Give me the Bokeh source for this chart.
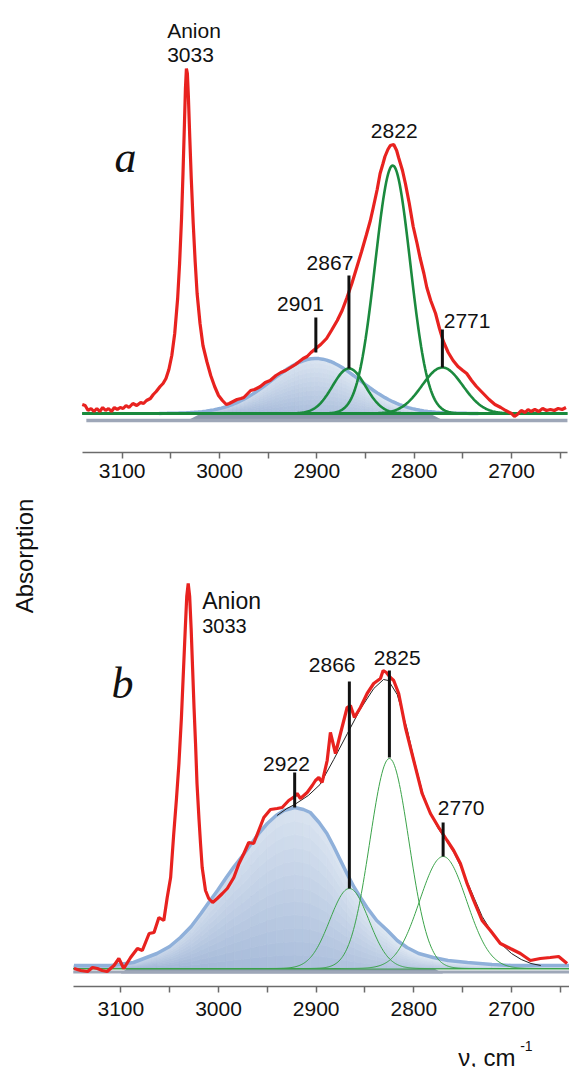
import numpy as np
from bokeh.plotting import figure
from bokeh.models import Range1d, FixedTicker, Label, ColumnDataSource
from bokeh.core.properties import value
from bokeh.layouts import column
from bokeh.embed import file_html
from bokeh.resources import INLINE

# ---------------- data ----------------
tick_major = [3100, 3000, 2900, 2800, 2700]
tick_minor = [3050, 2950, 2850, 2750, 2650]

# panel a : experimental spectrum (wavenumber, absorption in arbitrary units)
a_spectrum = [
    (3141, 9), (3138, 8), (3135, 3), (3132, 5), (3129, 2), (3126, 5), (3123, 2), (3120, 6),
    (3117, 3), (3114, 5), (3111, 2), (3108, 6), (3105, 4), (3102, 6), (3099, 5), (3096, 8),
    (3093, 6), (3089, 10), (3085, 8), (3081, 11), (3078, 10), (3075, 13), (3071, 15), (3068, 19),
    (3065, 22), (3061, 27), (3058, 30), (3055, 35), (3052, 44), (3049, 58), (3046, 80), (3043, 115),
    (3041, 150), (3039, 195), (3037.5, 240), (3036, 290), (3035, 325), (3034, 345), (3033, 340),
    (3032, 318), (3030.5, 275), (3029, 235), (3027, 190), (3025, 152), (3023, 120), (3020, 90),
    (3017, 68), (3013, 52), (3009, 38), (3005, 27), (3001, 18), (2997, 13), (2993, 9), (2990, 10),
    (2986, 12), (2982, 14), (2978, 15), (2975, 16), (2971, 20), (2968, 23), (2964, 24), (2958, 27),
    (2953, 31), (2948, 33), (2942, 38), (2937, 41), (2932, 43), (2927, 46), (2922, 49), (2918, 52),
    (2914, 55), (2910, 57), (2906, 61), (2901, 65), (2896, 69), (2890, 75), (2885, 83), (2879, 93),
    (2874, 103), (2869, 116), (2864, 130), (2859, 146), (2854, 162), (2849, 179), (2845, 193),
    (2842, 206), (2838, 224), (2835, 240), (2832, 250), (2830, 257), (2827, 264), (2824.5, 268),
    (2821, 269), (2818, 263), (2816, 256), (2812, 243), (2809, 230), (2805, 210), (2801, 187),
    (2797, 170), (2794, 156), (2790, 140), (2787, 126), (2783, 113), (2778, 100), (2774, 85),
    (2770, 72), (2765, 61), (2760, 53), (2755, 47), (2750, 43), (2746, 40), (2741, 33), (2736, 27),
    (2729, 20), (2723, 14), (2717, 9), (2711, 6), (2706, 3), (2700, 0), (2697, -3), (2694, -1),
    (2690, 3), (2686, 1), (2683, 4), (2680, 2), (2676, 4), (2672, 2), (2668, 5), (2664, 3),
    (2660, 4), (2656, 3), (2652, 5), (2648, 4), (2644, 6),
]
# panel a : fitted bands (centre, height, gaussian width)
a_band = (2901, 55, 45)
a_comp_center = [2867, 2822, 2771]
a_comp_height = [45, 248, 46]
a_comp_width = [17, 18, 21]
a_peak_names = ["2901", "2867", "2822", "2771"]
a_marked = ["2901", "2867", "2771"]
a_marker_low = [61, 45, 46]
a_marker_high = [96, 138, 84]

# panel b : experimental spectrum
b_spectrum = [
    (3148, 0), (3141, -2), (3134, -3), (3129, 1), (3124, 0), (3119, -2), (3114, -3), (3107, 3),
    (3102, 10), (3097, 0), (3090, 11), (3083, 20), (3078, 18), (3071, 35), (3066, 36), (3061, 51),
    (3056, 48), (3052.5, 71), (3049, 91), (3045.8, 135), (3043, 170), (3040.5, 205), (3038, 250),
    (3036, 295), (3034, 340), (3032.5, 372), (3031, 385), (3029.5, 372), (3028, 340),
    (3026.5, 300), (3025, 260), (3023.5, 225), (3022, 185), (3020, 150), (3018.4, 125),
    (3016.7, 101), (3013.3, 78), (3010, 70), (3006, 66), (3001.3, 70), (2996, 75), (2991, 80),
    (2984.3, 91), (2979, 105), (2974, 115), (2969, 126), (2964, 125), (2958, 140), (2953.6, 151),
    (2946.8, 159), (2940, 160), (2934.8, 161), (2928.1, 168), (2922, 172), (2919.5, 175),
    (2916.1, 170), (2909.2, 176), (2904, 183), (2900.7, 188), (2897.3, 191), (2893.9, 186),
    (2888.7, 208), (2885.4, 236), (2880.2, 215), (2875.1, 235), (2868.3, 261), (2864.9, 263),
    (2860.8, 251), (2854.7, 261), (2847.8, 275), (2841.1, 285), (2834.2, 290), (2831.4, 298),
    (2828.1, 296), (2824, 291), (2820.6, 288), (2815.5, 275), (2808.6, 241), (2800.1, 208),
    (2791.5, 175), (2783, 155), (2774.5, 141), (2765.9, 128), (2759.2, 118), (2752.3, 105),
    (2745.5, 85), (2738.7, 68), (2730.1, 48), (2721.6, 38), (2711.4, 25), (2701.2, 20),
    (2690.9, 15), (2680.7, 8), (2670.5, 10), (2660.3, 11), (2651.7, 12), (2643.1, 5),
]
# panel b : broad band (outline read point by point)
b_band = [
    (3148, 3), (3110, 3), (3087, 6), (3063, 15), (3050, 22), (3039, 31), (3028, 42), (3018, 55),
    (3010, 66), (3001, 78), (2992, 91), (2984, 102), (2976, 112), (2967, 124), (2958, 136),
    (2950, 145), (2941, 153), (2933, 158), (2922, 161), (2913, 159), (2906, 156), (2897, 146),
    (2889, 135), (2882, 122), (2875, 108), (2868, 94), (2861, 81), (2854, 70), (2848, 61),
    (2838, 48), (2827, 38), (2817, 28), (2807, 21), (2795, 15), (2780, 11), (2765, 8),
    (2745, 6), (2720, 4), (2700, 3), (2640, 3),
]
# panel b : total fit
b_fit = [
    (2940, 153), (2930, 160), (2922, 164), (2908, 173), (2896, 184), (2882, 209), (2868, 235),
    (2855, 259), (2841, 280), (2831, 289), (2826, 288), (2817, 274), (2807, 240), (2800, 210),
    (2791, 176), (2783, 155), (2775, 140), (2766, 127), (2759, 116), (2752, 102), (2745, 86),
    (2738, 70), (2730, 52), (2720, 36), (2710, 24), (2700, 15), (2690, 9), (2680, 5), (2670, 3),
]
b_comp_center = [2866, 2825, 2770]
b_comp_height = [80, 210, 112]
b_comp_width = [20, 20, 24]
b_peak_names = ["2922", "2866", "2825", "2770"]
b_marker_low = [161, 80, 211, 112]
b_marker_high = [196, 287, 298, 146]

# ---------------- styling / layout ----------------
RED = "#e8221f"
GREEN_A = "#1b8a3e"
GREEN_B = "#3ba34a"
BLUE_LINE = "#8fb0da"
GRAY = "#9ea7b8"
SHADOW = "#8d98ad"
DARK = (152, 175, 211)
LIGHT = (228, 236, 245)
FONT = "Liberation Sans"


def mix(t):
    t = max(0.0, min(1.0, t))
    c = [int(round(d + (l - d) * t)) for d, l in zip(DARK, LIGHT)]
    return "#%02x%02x%02x" % tuple(c)


def make_fig(xr, bounds, yr, height, bottom, standoff):
    p = figure(width=569, height=height, x_range=Range1d(*xr), y_range=Range1d(*yr),
               output_backend="svg", toolbar_location=None, y_axis_location=None,
               min_border_left=0, min_border_right=0, min_border_top=0,
               min_border_bottom=bottom)
    p.outline_line_color = None
    p.grid.visible = False
    p.background_fill_color = "white"
    p.border_fill_color = "white"
    ax = p.xaxis[0]
    ax.bounds = (min(bounds), max(bounds))
    ax.ticker = FixedTicker(ticks=tick_major, minor_ticks=tick_minor)
    ax.major_tick_in = 0
    ax.major_tick_out = 6
    ax.minor_tick_in = 0
    ax.minor_tick_out = 6
    for attr in ("axis_line", "major_tick_line", "minor_tick_line"):
        setattr(ax, attr + "_color", "#6b6b6b")
        setattr(ax, attr + "_width", 1.5)
    ax.major_label_text_font = FONT
    ax.major_label_text_font_size = "21px"
    ax.major_label_text_color = "#111111"
    ax.major_label_standoff = standoff
    return p


def shaded_band(p, xs, ys, nb=12):
    xs = np.asarray(xs, float)
    ys = np.asarray(ys, float)
    xn = (xs[0] - xs) / (xs[0] - xs[-1])
    fr = np.linspace(0, 1, nb + 1)
    px, py, cols = [], [], []
    for i in range(len(xs) - 1):
        for j in range(nb):
            f0, f1 = fr[j], fr[j + 1]
            px.append([xs[i], xs[i + 1], xs[i + 1], xs[i]])
            py.append([f0 * ys[i], f0 * ys[i + 1], f1 * ys[i + 1], f1 * ys[i]])
            cols.append(mix(0.55 * (xn[i] + xn[i + 1]) / 2 + 0.6 * (f0 + f1) / 2))
    src = ColumnDataSource(dict(xs=px, ys=py, c=cols))
    p.patches("xs", "ys", source=src, fill_color="c", line_color="c", line_width=0.8)
    p.line(xs, ys, line_color=BLUE_LINE, line_width=3.5)


def gauss(x, c, h, w):
    return h * np.exp(-((x - c) ** 2) / (2.0 * w * w))


def text(p, x, y, s, size="21px", align="center", font=FONT, style="normal", **kw):
    p.add_layout(Label(x=x, y=y, text=s, text_font=font, text_font_size=size,
                       text_font_style=style, text_align=align,
                       text_baseline="alphabetic", text_color="#111111", **kw))


# ================= panel a =================
xa = (3225.0, 2640.4)          # visible range of the figure canvas
ba = (3140.8, 2642.5)          # extent of the drawn axis
pa = make_fig(xa, ba, (-39, 413), 490, 38, 5)

aw, av = map(list, zip(*a_spectrum))
grid_a = np.arange(ba[0], ba[1], -1.0)
band_x = np.arange(3062, 2730, -4.0)
band_y = gauss(band_x, *a_band)

pa.patch([band_x[0] - 43, band_x[0] - 29, band_x[-1] + 36, band_x[-1] + 50],
         [0, -7, -7, 0], fill_color=SHADOW, line_color=None)
pa.line([ba[0] - 4, ba[1]], [-7, -7], line_color=GRAY, line_width=3.5)
shaded_band(pa, band_x, band_y)
pa.line([ba[0], ba[1]], [0, 0], line_color=GREEN_A, line_width=2.8)
for c, h, w in zip(a_comp_center, a_comp_height, a_comp_width):
    pa.line(grid_a, gauss(grid_a, c, h, w), line_color=GREEN_A, line_width=2.6)
pa.line(aw, av, line_color=RED, line_width=3.2)
mx = [float(s) for s in a_marked]
pa.segment(x0=mx, y0=a_marker_low, x1=mx, y1=a_marker_high, line_color="#111111", line_width=3)

text(pa, 3053.8, 383, "Anion", align="left")
text(pa, 3053.8, 359, "3033", align="left")
a_label_x = [2916.8, 2886.5, 2820.5, 2769.6]
a_label_y = [110, 151, 283, 93]
a_label_align = ["center", "center", "center", "left"]
for s, x, y, al in zip(a_peak_names, a_label_x, a_label_y, a_label_align):
    text(pa, x, y, s, align=al)
text(pa, 3096.6, 256, "a", size="44px", font="Liberation Serif", style="italic")

# ================= panel b =================
xb = (3223.2, 2640.6)
bb = (3148.7, 2640.6)
pb = make_fig(xb, bb, (-18, 478), 536, 40, 9)

bw, bv = map(list, zip(*b_spectrum))
bbx, bby = map(list, zip(*b_band))
bfx, bfy = map(list, zip(*b_fit))
grid_b = np.arange(bb[0], bb[1], -1.0)

pb.patch([3093, 3100, 2770, 2780], [0.5, -5, -5, 0.5], fill_color=SHADOW, line_color=None)
pb.line([bb[0], bb[1]], [-3.5, -3.5], line_color=GRAY, line_width=3)
shaded_band(pb, bbx, bby)
pb.line([bb[0], bb[1]], [-0.5, -0.5], line_color=GREEN_B, line_width=1.2)
for c, h, w in zip(b_comp_center, b_comp_height, b_comp_width):
    pb.line(grid_b, gauss(grid_b, c, h, w), line_color=GREEN_B, line_width=1)
pb.line(bfx, bfy, line_color="#222222", line_width=1)
pb.line(bw, bv, line_color=RED, line_width=3.2)
mxb = [float(s) for s in b_peak_names]
pb.segment(x0=mxb, y0=b_marker_low, x1=mxb, y1=b_marker_high, line_color="#111111", line_width=3)

text(pb, 3016.7, 368, "Anion", size="23px", align="left")
text(pb, 3016.7, 343, "3033", size="20px", align="left")
b_label_x = [2930.4, 2883.6, 2817.0, 2751.5]
b_label_y = [205, 304, 311, 161]
for s, x, y in zip(b_peak_names, b_label_x, b_label_y):
    text(pb, x, y, s)
text(pb, 3098.3, 285, "b", size="44px", font="Liberation Serif", style="italic")

# vertical axis title (inside the frame, left of the drawn axis)
pb.add_layout(Label(x=3198.6, y=412.5, text="Absorption", text_font=FONT, text_font_size="24px",
                    text_align="center", text_baseline="middle", angle=np.pi / 2,
                    text_color="#111111"))

# ================= x axis title strip =================
pc = figure(width=569, height=41, x_range=Range1d(*xb), y_range=Range1d(0, 41),
            output_backend="svg", toolbar_location=None, x_axis_location=None,
            y_axis_location=None, min_border=0)
pc.outline_line_color = None
pc.grid.visible = False
pc.text(x=[2754.5], y=[10], text=["ν, cm"], text_font=value(FONT), text_font_size="24px",
        text_align="left", text_baseline="alphabetic", text_color="#111111")
pc.text(x=[2691.1], y=[22], text=["-1"], text_font=value(FONT), text_font_size="14px",
        text_align="left", text_baseline="alphabetic", text_color="#111111")

layout = column(pa, pb, pc)
open("out.html", "w").write(file_html(layout, INLINE, title="IR absorption"))
